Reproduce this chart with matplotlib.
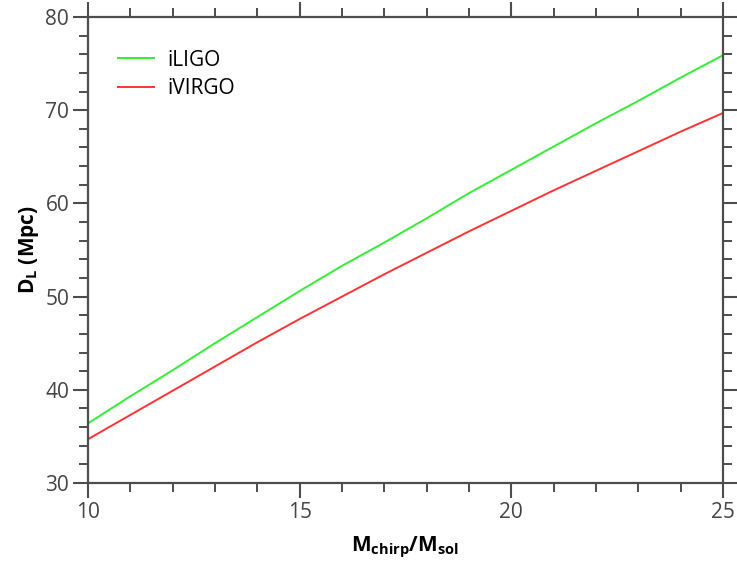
import matplotlib
matplotlib.use("Agg")
import matplotlib.pyplot as plt
from matplotlib.ticker import MultipleLocator

plt.rcParams['font.family'] = ['Open Sans', 'DejaVu Sans']
plt.rcParams['mathtext.fontset'] = 'custom'
plt.rcParams['mathtext.rm'] = 'Open Sans'
plt.rcParams['mathtext.bf'] = 'Open Sans:bold'

# chirp mass in solar masses
m_chirp = [10, 11, 12, 13, 14, 15, 16, 17, 18, 19, 20, 21, 22, 23, 24, 25]
# luminosity distance reach (Mpc)
d_iligo = [36.4, 39.3, 42.1, 45.0, 47.8, 50.6, 53.3, 55.8, 58.4, 61.1,
           63.6, 66.1, 68.6, 71.0, 73.5, 75.9]
d_ivirgo = [34.7, 37.3, 39.9, 42.5, 45.1, 47.6, 50.0, 52.4, 54.7, 57.0,
            59.2, 61.4, 63.5, 65.6, 67.7, 69.7]

fig = plt.figure(figsize=(7.37, 5.63), dpi=100)
ax = fig.add_axes([0.1194, 0.1421, 0.8616, 0.8277])

ax.plot(m_chirp, d_iligo, color='#33ee33', lw=1.4, label='iLIGO')
ax.plot(m_chirp, d_ivirgo, color='#ff3333', lw=1.4, label='iVIRGO')

ax.set_xlim(10, 25)
ax.set_ylim(30, 80)
ax.xaxis.set_major_locator(MultipleLocator(5))
ax.xaxis.set_minor_locator(MultipleLocator(1))
ax.yaxis.set_major_locator(MultipleLocator(10))
ax.yaxis.set_minor_locator(MultipleLocator(2))

axis_col = '#4d4d4d'
for s in ax.spines.values():
    s.set_color(axis_col)
    s.set_linewidth(1.6)
ax.tick_params(which='both', direction='out', colors=axis_col,
               top=True, right=True, labelcolor='#444444', labelsize=15)
ax.tick_params(which='major', length=10.5, width=1.5, pad=3)
ax.tick_params(which='minor', length=6.5, width=1.4)

ax.set_xlabel(r'$\mathbf{M_{chirp}/M_{sol}}$', fontsize=15, labelpad=9)
ax.set_ylabel(r'$\mathbf{D_L}$ (Mpc)', fontsize=15, fontweight='bold', labelpad=3)

ax.legend(loc='upper left', frameon=False, fontsize=15,
          bbox_to_anchor=(0.018, 0.97), handlelength=1.7, handletextpad=0.65,
          labelspacing=0.35)

fig.savefig('out.png', dpi=100)
